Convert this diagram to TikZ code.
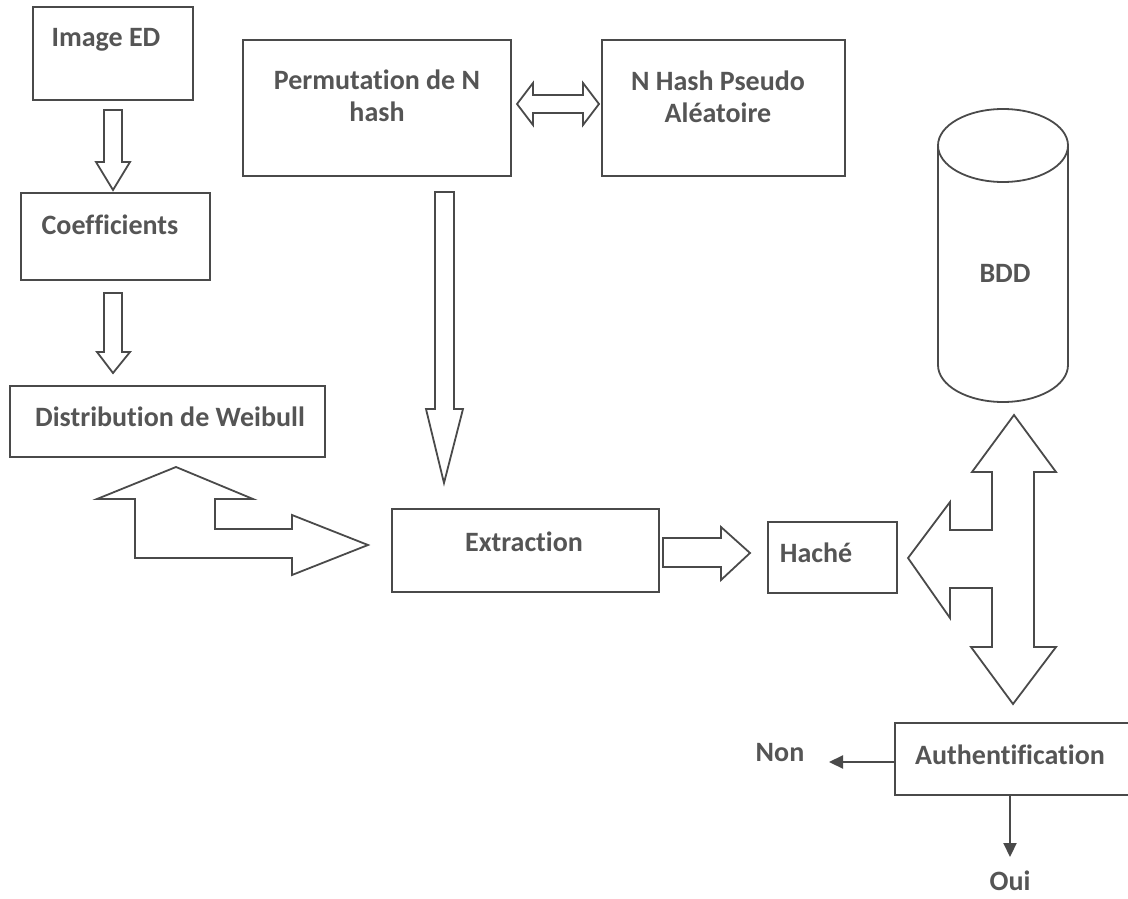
\documentclass[tikz,border=0pt]{standalone}
\usepackage{fontspec}
\setmainfont{Carlito}[Ligatures=NoCommon]
\usetikzlibrary{arrows.meta}
\definecolor{ink}{HTML}{4A4A4A}
\definecolor{txtc}{HTML}{555555}
\begin{document}
\begin{tikzpicture}[x=1pt,y=-1pt,
  box/.style={draw=ink,line width=1.8pt,rectangle,inner sep=0pt},
  lbl/.style={text=txtc,font=\fontsize{28}{32}\selectfont\bfseries,inner sep=0pt,align=center},
  blk/.style={draw=ink,line width=1.8pt,line join=miter,fill=white},
  thinarrow/.style={draw=ink,line width=2.2pt,-{Triangle[length=14pt,width=13pt]}}]
\useasboundingbox (0,0) rectangle (1128,899);

% left column of boxes
\node[box,minimum width=160pt,minimum height=93pt] (img) at (113,53.5) {};
\node[lbl] (imgtxt) at (106,40) {Image ED};
\node[box,minimum width=189pt,minimum height=87pt] (coef) at (115.5,236.5) {};
\node[lbl] (coeftxt) at (110,225) {Coefficients};
\node[box,minimum width=315pt,minimum height=71pt] (weib) at (167.5,421.5) {};
\node[lbl] (weibtxt) at (170,417) {Distribution de Weibull};

% top row
\node[box,minimum width=268pt,minimum height=136pt] (perm) at (377,108) {};
\node[lbl] (permtxt) at (377,96) {Permutation de N\\hash};
\node[box,minimum width=243pt,minimum height=136pt] (nhash) at (723.5,108) {};
\node[lbl] (nhashtxt) at (718,97) {N Hash Pseudo\\Aléatoire};

% middle row
\node[box,minimum width=267pt,minimum height=83pt] (extr) at (525.5,550.5) {};
\node[lbl] (extrtxt) at (524,542) {Extraction};
\node[box,minimum width=129pt,minimum height=71pt] (hache) at (832.5,557.5) {};
\node[lbl] (hachetxt) at (816,553) {Haché};

% database cylinder
\draw[blk] (938,145.5) -- (938,365) arc[start angle=180,end angle=360,x radius=65pt,y radius=37pt] -- (1068,145.5);
\draw[blk] (1003,145.5) ellipse [x radius=65pt,y radius=36.5pt];
\node[lbl] (bdd) at (1005,273) {BDD};

% decision
\node[box,minimum width=240pt,minimum height=72pt] (auth) at (1015,759) {};
\node[lbl] (authtxt) at (1010,755) {Authentification};
\node[lbl] (non) at (780,753) {Non};
\node[lbl] (oui) at (1010,881) {Oui};
\coordinate (nontip) at (829,762);
\coordinate (ouitip) at (1010,857);
\draw[thinarrow] (auth.west |- nontip) -- (nontip);
\draw[thinarrow] (ouitip |- auth.south) -- (ouitip);

% block arrows
\draw[blk] (104,110) -- (122,110) -- (122,162) -- (130,162) -- (113,190) -- (96,162) -- (104,162) -- cycle;
\draw[blk] (104,293) -- (122,293) -- (122,352) -- (130,352) -- (113,373) -- (97,352) -- (104,352) -- cycle;
\draw[blk] (517,104) -- (533,83) -- (533,95) -- (583,95) -- (583,83) -- (599,104) -- (583,125) -- (583,113) -- (533,113) -- (533,125) -- cycle;
\draw[blk] (435,192) -- (454,192) -- (454,409) -- (463,409) -- (444,483) -- (426,409) -- (435,409) -- cycle;
\draw[blk] (176,467) -- (253,499) -- (215,499) -- (215,529) -- (292,529) -- (292,515) -- (368,545) -- (292,575) -- (292,558) -- (135,558) -- (135,499) -- (97,499) -- cycle;
\draw[blk] (663,538) -- (721,538) -- (721,527) -- (750,553) -- (721,580) -- (721,567) -- (663,567) -- cycle;
\draw[blk] (1014,415) -- (1056,472) -- (1034,472) -- (1034,647) -- (1056,647) -- (1013,704) -- (971,647) -- (992,647) -- (992,588) -- (950,588) -- (950,618) -- (908,558) -- (950,502) -- (950,530) -- (992,530) -- (992,472) -- (972,472) -- cycle;
\end{tikzpicture}
\end{document}
